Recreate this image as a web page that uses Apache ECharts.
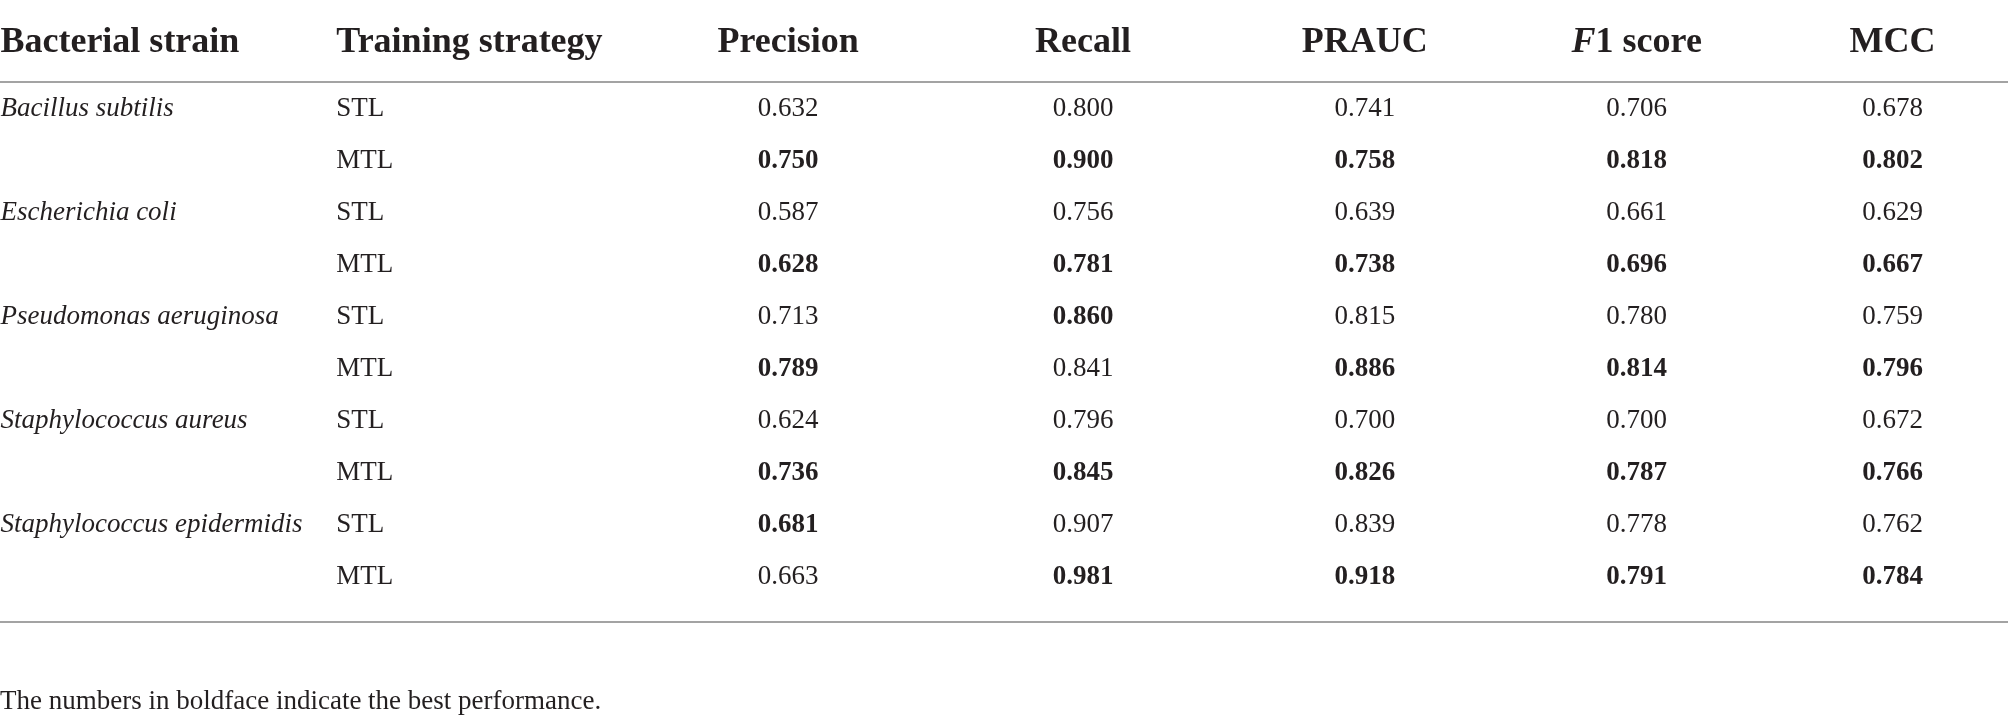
<!DOCTYPE html>
<html>
<head>
<meta charset="utf-8">
<title>STL vs MTL per strain</title>
<script src="https://cdn.jsdelivr.net/npm/echarts@6.0.0/dist/echarts.min.js"></script>
<style>
	html, body { margin: 0; padding: 0; background: #fff; }
	#chartDiv { width: 2008px; height: 724px; }
</style>
</head>
<body>
<div id="chartDiv"></div>
<script>
	// table content
	var headers = ['Bacterial strain', 'Training strategy', 'Precision', 'Recall', 'PRAUC', 'F1 score', 'MCC'];
	var strains = ['Bacillus subtilis', 'Escherichia coli', 'Pseudomonas aeruginosa', 'Staphylococcus aureus', 'Staphylococcus epidermidis'];
	var strategies = ['STL', 'MTL'];
	// rows go STL, MTL for each strain in turn
	var precision = [0.632, 0.750, 0.587, 0.628, 0.713, 0.789, 0.624, 0.736, 0.681, 0.663];
	var recall = [0.800, 0.900, 0.756, 0.781, 0.860, 0.841, 0.796, 0.845, 0.907, 0.981];
	var prauc = [0.741, 0.758, 0.639, 0.738, 0.815, 0.886, 0.700, 0.826, 0.839, 0.918];
	var f1score = [0.706, 0.818, 0.661, 0.696, 0.780, 0.814, 0.700, 0.787, 0.778, 0.791];
	var mcc = [0.678, 0.802, 0.629, 0.667, 0.759, 0.796, 0.672, 0.766, 0.762, 0.784];
	var note = 'The numbers in boldface indicate the best performance.';

	var metricCols = [precision, recall, prauc, f1score, mcc];

	// column layout (label alignment and shift inside each band)
	var colAlign = ['left', 'left', 'center', 'center', 'center', 'center', 'center'];
	var colShift = [-143, -94, 71, 79, 74, 59, 28];

	var FONT = 'Liberation Serif';
	var INK = '#231f20';
	var RULE = '#a3a3a3';

	var rowKeys = [];
	strains.forEach(function(s) {
		strategies.forEach(function(t) {
			rowKeys.push(s + ' / ' + t);
		});
	});

	function cellLabel(c, extra) {
		var l = {
			align : colAlign[c],
			offset : [colShift[c], 0]
		};
		for (var k in extra) l[k] = extra[k];
		return l;
	}

	// header cells
	var headData = headers.map(function(h, c) {
		var txt = h === 'F1 score' ? '{i|F}{b|1 score}' : '{b|' + h + '}';
		return {
			value : [c, 0],
			text : txt,
			label : cellLabel(c, {})
		};
	});

	// body cells
	var bodyData = [];
	rowKeys.forEach(function(key, r) {
		var si = Math.floor(r / 2);
		if (r % 2 === 0) {
			bodyData.push({
				value : [0, r],
				text : strains[si],
				label : cellLabel(0, { fontStyle : 'italic' })
			});
		}
		bodyData.push({
			value : [1, r],
			text : strategies[r % 2],
			label : cellLabel(1, {})
		});
		metricCols.forEach(function(vals, m) {
			var other = r % 2 ? r - 1 : r + 1;
			var best = vals[r] > vals[other];
			bodyData.push({
				value : [m + 2, r],
				text : vals[r].toFixed(3),
				label : cellLabel(m + 2, { fontWeight : best ? 'bold' : 'normal' })
			});
		});
	});

	var hiddenAxis = {
		axisLine : { show : false },
		axisTick : { show : false },
		axisLabel : { show : false },
		splitLine : { show : false }
	};

	var option = {
		backgroundColor : '#fff',
		animation : false,
		title : {
			text : note,
			left : 0,
			top : 688,
			padding : 0,
			textStyle : {
				fontFamily : FONT,
				fontSize : 27,
				fontWeight : 'normal',
				color : INK
			}
		},
		grid : [
			{ left : 0, right : 0, top : 4, height : 78 },
			{ left : 0, right : 0, top : 83, height : 520 }
		],
		xAxis : [
			{
				type : 'category', gridIndex : 0, data : headers, position : 'bottom',
				axisLine : { show : true, lineStyle : { color : RULE, width : 2 } },
				axisTick : { show : false }, axisLabel : { show : false }, splitLine : { show : false }
			},
			{
				type : 'category', gridIndex : 1, data : headers, position : 'bottom', offset : 19,
				axisLine : { show : true, lineStyle : { color : RULE, width : 2 } },
				axisTick : { show : false }, axisLabel : { show : false }, splitLine : { show : false }
			}
		],
		yAxis : [
			Object.assign({ type : 'category', gridIndex : 0, data : ['head'] }, hiddenAxis),
			Object.assign({ type : 'category', gridIndex : 1, data : rowKeys, inverse : true }, hiddenAxis)
		],
		series : [
			{
				type : 'scatter', xAxisIndex : 0, yAxisIndex : 0,
				symbolSize : 0, silent : true,
				itemStyle : { opacity : 1 },
				data : headData,
				label : {
					show : true, position : 'inside',
					formatter : function(p) { return p.data.text; },
					color : INK,
					rich : {
						b : { fontFamily : FONT, fontSize : 36, fontWeight : 'bold', color : INK },
						i : { fontFamily : FONT, fontSize : 36, fontWeight : 'bold', fontStyle : 'italic', color : INK }
					}
				}
			},
			{
				type : 'scatter', xAxisIndex : 1, yAxisIndex : 1,
				symbolSize : 0, silent : true,
				itemStyle : { opacity : 1 },
				data : bodyData,
				label : {
					show : true, position : 'inside',
					formatter : function(p) { return p.data.text; },
					fontFamily : FONT, fontSize : 27, color : INK
				}
			}
		]
	};

	var chart = echarts.init(document.getElementById('chartDiv'));
	chart.setOption(option);
</script>
</body>
</html>
